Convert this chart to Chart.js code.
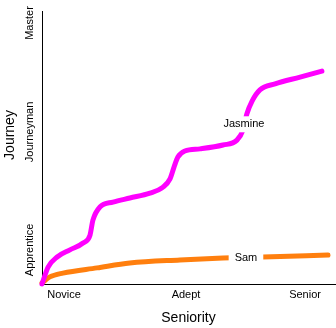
<!DOCTYPE html>
<html>
<head>
<meta charset="utf-8">
<script src="https://cdn.jsdelivr.net/npm/chart.js@4/dist/chart.umd.min.js"></script>
<style>
  html, body { margin: 0; padding: 0; background: #fff; }
  canvas { display: block; }
</style>
</head>
<body>
<canvas id="c" width="336" height="328"></canvas>
<script>
// x = seniority, y = journey
const JASMINE_X = [0, 2.1, 5.2, 9.6, 14.1, 16.5, 17.5, 19.9, 24.4, 30.2, 37.1, 41.6, 44.0, 45.4, 46.7, 49.1, 54.3, 62.2, 67.0, 69.1, 70.4, 72.2, 74.9, 80.1, 88.7, 96.2];
const JASMINE_Y = [0, 6.2, 9.9, 12.5, 15.0, 17.9, 23.4, 28.2, 30.0, 31.5, 33.3, 35.5, 38.5, 42.9, 46.5, 48.7, 49.5, 50.9, 52.7, 56.4, 62.3, 67.0, 71.1, 73.3, 75.8, 78.0];
const SAM_X = [0, 2.7, 7.2, 18.9, 30.2, 47.4, 62.2, 75.9, 98.3];
const SAM_Y = [0.4, 2.6, 4.0, 5.9, 7.7, 8.8, 9.5, 9.9, 10.6];

const X_MAX = 100.7;
const X_TICKS = [7.6, 49.5, 90.4];
const X_LABELS = ['Novice', 'Adept', 'Senior'];
const Y_TICKS = [12.5, 55.7, 95.6];
const Y_LABELS = ['Apprentice', 'Journeyman', 'Master'];

// inline labels sitting on the curves
const LABELS = [
    { text: 'Jasmine', x: 69.4, y: 58.5 },
    { text: 'Sam', x: 70.1, y: 9.7 },
];

const FONT = '"Liberation Sans", Arial, Helvetica, sans-serif';

const toPts = (xs, ys) => xs.map((x, i) => ({ x, y: ys[i] }));

const textPlugin = {
    id: 'texts',
    afterDatasetsDraw(chart) {
        const { ctx, scales: { x, y } } = chart;
        ctx.save();
        ctx.font = `11px ${FONT}`;
        ctx.textAlign = 'center';
        ctx.textBaseline = 'middle';
        LABELS.forEach((l) => {
            const px = x.getPixelForValue(l.x);
            const py = y.getPixelForValue(l.y);
            const w = ctx.measureText(l.text).width + 12;
            ctx.fillStyle = '#fff';
            ctx.fillRect(px - w / 2, py - 8, w, 16);
            ctx.fillStyle = '#000';
            ctx.fillText(l.text, px, py);
        });
        ctx.restore();
    },
    afterDraw(chart) {
        // rotated y tick labels + y title
        const { ctx, scales: { y } } = chart;
        ctx.save();
        ctx.fillStyle = '#000';
        ctx.textAlign = 'center';
        ctx.textBaseline = 'alphabetic';
        ctx.font = `11px ${FONT}`;
        Y_TICKS.forEach((v, i) => {
            ctx.save();
            ctx.translate(33, y.getPixelForValue(v));
            ctx.rotate(-Math.PI / 2);
            ctx.fillText(Y_LABELS[i], 0, 0);
            ctx.restore();
        });
        ctx.font = `14px ${FONT}`;
        ctx.translate(14, 135);
        ctx.rotate(-Math.PI / 2);
        ctx.fillText('Journey', 0, 0);
        ctx.restore();
    },
};

new Chart(document.getElementById('c'), {
    type: 'line',
    data: {
        datasets: [
            { label: 'Jasmine', data: toPts(JASMINE_X, JASMINE_Y), borderColor: '#ff00ff', borderWidth: 5,
              cubicInterpolationMode: 'monotone', borderCapStyle: 'round', borderJoinStyle: 'round', pointRadius: 0, clip: false },
            { label: 'Sam', data: toPts(SAM_X, SAM_Y), borderColor: '#ff7f0e', borderWidth: 5,
              cubicInterpolationMode: 'monotone', borderCapStyle: 'round', borderJoinStyle: 'round', pointRadius: 0, clip: false },
        ],
    },
    options: {
        responsive: false,
        animation: false,
        layout: { padding: { top: 11, right: 1, left: 0, bottom: 0 } },
        plugins: { legend: { display: false }, tooltip: { enabled: false } },
        scales: {
            x: {
                type: 'linear', min: 0, max: X_MAX,
                afterFit: (s) => { s.height = 44; },
                afterBuildTicks: (s) => { s.ticks = X_TICKS.map((value) => ({ value })); },
                grid: { display: false, drawTicks: false },
                border: { display: true, color: '#000', width: 1 },
                ticks: { color: '#000', font: { family: FONT, size: 11 }, padding: 4,
                         callback: (v) => X_LABELS[X_TICKS.indexOf(v)] },
                title: { display: true, text: 'Seniority', color: '#000', font: { family: FONT, size: 14 }, padding: { top: 0, bottom: 1 } },
            },
            y: {
                type: 'linear', min: 0, max: 100,
                afterFit: (s) => { s.width = 42; },
                afterBuildTicks: (s) => { s.ticks = Y_TICKS.map((value) => ({ value })); },
                grid: { display: false, drawTicks: false },
                border: { display: true, color: '#000', width: 1 },
                ticks: { display: false },
            },
        },
    },
    plugins: [textPlugin],
});
</script>
</body>
</html>
